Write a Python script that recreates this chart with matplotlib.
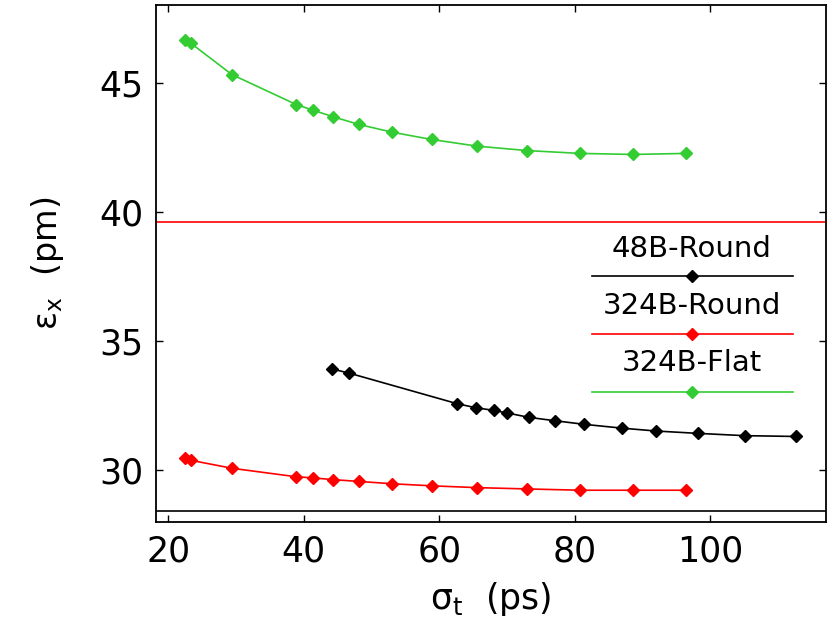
import matplotlib
matplotlib.use("Agg")
import matplotlib.pyplot as plt

# Bunchlänge sigma_t (ps), gemeinsam für 324B-Kurven
sigma_324 = [22.5, 23.3, 29.4, 38.9, 41.3, 44.3, 48.15, 53.05, 58.85, 65.6, 72.95, 80.75, 88.6, 96.4]
eps_324_flat = [46.65, 46.53, 45.31, 44.15, 43.94, 43.68, 43.38, 43.08, 42.80, 42.54, 42.37, 42.26, 42.22, 42.26]
eps_324_round = [30.46, 30.39, 30.08, 29.75, 29.71, 29.64, 29.57, 29.48, 29.40, 29.33, 29.28, 29.23, 29.23, 29.23]

sigma_48 = [44.2, 46.7, 62.6, 65.4, 68.0, 70.0, 73.2, 77.0, 81.35, 87.0, 92.0, 98.1, 105.1, 112.6]
eps_48_round = [33.92, 33.76, 32.58, 32.42, 32.32, 32.22, 32.05, 31.92, 31.78, 31.63, 31.52, 31.43, 31.34, 31.31]

# Null-Strom-Referenzlinien
eps_ref_324 = 39.6
eps_ref_48 = 28.44

labels = ["48B-Round", "324B-Round", "324B-Flat"]
colors = ["black", "#ff0000", "#33cc33"]

plt.rcParams["font.family"] = ["DejaVu Sans"]
plt.rcParams["mathtext.default"] = "regular"

fig = plt.figure(figsize=(8.31, 6.3), dpi=100)
ax = fig.add_axes([0.1877, 0.1714, 0.8059, 0.8206])

ax.axhline(eps_ref_324, color=colors[1], lw=1.2)
ax.axhline(eps_ref_48, color=colors[0], lw=1.2)

ax.plot(sigma_48, eps_48_round, color=colors[0], lw=1.2, marker="D", ms=6.5)
ax.plot(sigma_324, eps_324_round, color=colors[1], lw=1.2, marker="D", ms=6.5)
ax.plot(sigma_324, eps_324_flat, color=colors[2], lw=1.2, marker="D", ms=6.5)

ax.set_xlim(18.2, 117.0)
ax.set_ylim(28, 48)
ax.set_xticks([20, 40, 60, 80, 100])
ax.set_yticks([30, 35, 40, 45])
ax.tick_params(direction="in", length=5, width=1, top=True, right=True,
               labelsize=25, pad=9)
for sp in ax.spines.values():
    sp.set_linewidth(1.3)

ax.set_xlabel("σ$_t$  (ps)", fontsize=25, labelpad=8)
ax.set_ylabel("ε$_x$  (pm)", fontsize=24, labelpad=24)

# Legende: Text über Linie mit Marker
text_y = [0.529, 0.418, 0.307]
line_y = [0.476, 0.364, 0.252]
for lab, col, ty, ly in zip(labels, colors, text_y, line_y):
    ax.text(0.800, ty, lab, transform=ax.transAxes, ha="center", va="center",
            fontsize=21)
    ax.plot([0.6506, 0.951], [ly, ly], color=col, lw=1.2, transform=ax.transAxes)
    ax.plot([0.800], [ly], color=col, marker="D", ms=6, transform=ax.transAxes)

fig.savefig("out.png", dpi=100)
